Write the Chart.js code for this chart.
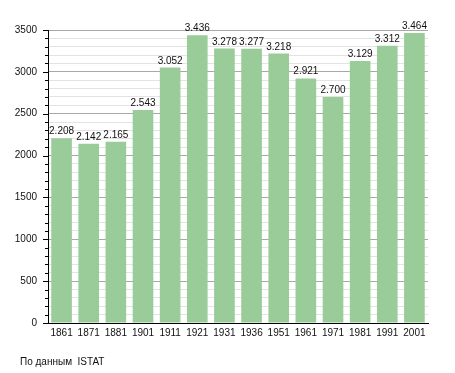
<!DOCTYPE html>
<html>
<head>
<meta charset="utf-8">
<script src="https://cdn.jsdelivr.net/npm/chart.js@4/dist/chart.umd.min.js"></script>
<style>
  html, body { margin: 0; padding: 0; background: #fff; }
  #wrap { width: 455px; height: 373px; position: relative; }
</style>
</head>
<body>
<div id="wrap"><canvas id="c"></canvas></div>
<script>
// population by census year
var years = ["1861", "1871", "1881", "1901", "1911", "1921", "1931", "1936", "1951", "1961", "1971", "1981", "1991", "2001"];
var population = [2208, 2142, 2165, 2543, 3052, 3436, 3278, 3277, 3218, 2921, 2700, 3129, 3312, 3464];
var yTicks = [0, 500, 1000, 1500, 2000, 2500, 3000, 3500];
var sourceNote = "По данным  ISTAT";

var FONT = "'Liberation Sans', Arial, sans-serif";

function fmt(v) {
  return String(v).replace(/\B(?=(\d{3})+(?!\d))/g, ".");
}

// bar value labels
var valueLabels = {
  id: "valueLabels",
  afterDatasetsDraw(chart) {
    var ctx = chart.ctx;
    var meta = chart.getDatasetMeta(0);
    ctx.save();
    ctx.font = "10px " + FONT;
    ctx.fillStyle = "#111";
    ctx.textAlign = "center";
    ctx.textBaseline = "alphabetic";
    meta.data.forEach(function (bar, i) {
      ctx.fillText(fmt(population[i]), bar.x, bar.y - 4);
    });
    ctx.restore();
  }
};

// small tick marks on the y axis + source note
var extras = {
  id: "extras",
  afterDraw(chart) {
    var ctx = chart.ctx;
    var y = chart.scales.y;
    var ax = chart.chartArea.left;
    ctx.save();
    ctx.strokeStyle = "#000";
    ctx.lineWidth = 1;
    y.ticks.forEach(function (t) {
      var py = Math.round(y.getPixelForValue(t.value)) + 0.5;
      var len = yTicks.indexOf(t.value) >= 0 ? 5 : 3;
      ctx.beginPath();
      ctx.moveTo(ax - len, py);
      ctx.lineTo(ax, py);
      ctx.stroke();
    });
    ctx.font = "10px " + FONT;
    ctx.fillStyle = "#111";
    ctx.textAlign = "left";
    ctx.textBaseline = "middle";
    ctx.fillText(sourceNote, 20, 362);
    ctx.restore();
  }
};

new Chart(document.getElementById("c"), {
  type: "bar",
  data: {
    labels: years,
    datasets: [{
      data: population,
      backgroundColor: "#99cc99",
      borderWidth: 0,
      categoryPercentage: 1,
      barPercentage: 0.76
    }]
  },
  options: {
    responsive: true,
    maintainAspectRatio: false,
    animation: false,
    events: [],
    layout: { padding: { left: 0, top: 30, right: 27, bottom: 30 } },
    plugins: {
      legend: { display: false },
      tooltip: { enabled: false }
    },
    scales: {
      x: {
        offset: true,
        grid: { display: false, drawTicks: false },
        border: { color: "#000", width: 1 },
        ticks: {
          color: "#111",
          font: { family: FONT, size: 10 },
          padding: 4,
          maxRotation: 0,
          autoSkip: false
        },
        afterFit(scale) { scale.height = 20; }
      },
      y: {
        min: 0,
        max: 3500,
        grid: {
          drawTicks: false,
          color(ctx) {
            return yTicks.indexOf(ctx.tick.value) >= 0 ? "#a8a8a8" : "#e3e3e3";
          }
        },
        border: { color: "#000", width: 1 },
        ticks: {
          stepSize: 100,
          autoSkip: false,
          color: "#111",
          font: { family: FONT, size: 10 },
          padding: 11,
          callback(v) { return yTicks.indexOf(v) >= 0 ? String(v) : ""; }
        },
        afterFit(scale) { scale.width = 48; }
      }
    }
  },
  plugins: [valueLabels, extras]
});
</script>
</body>
</html>
